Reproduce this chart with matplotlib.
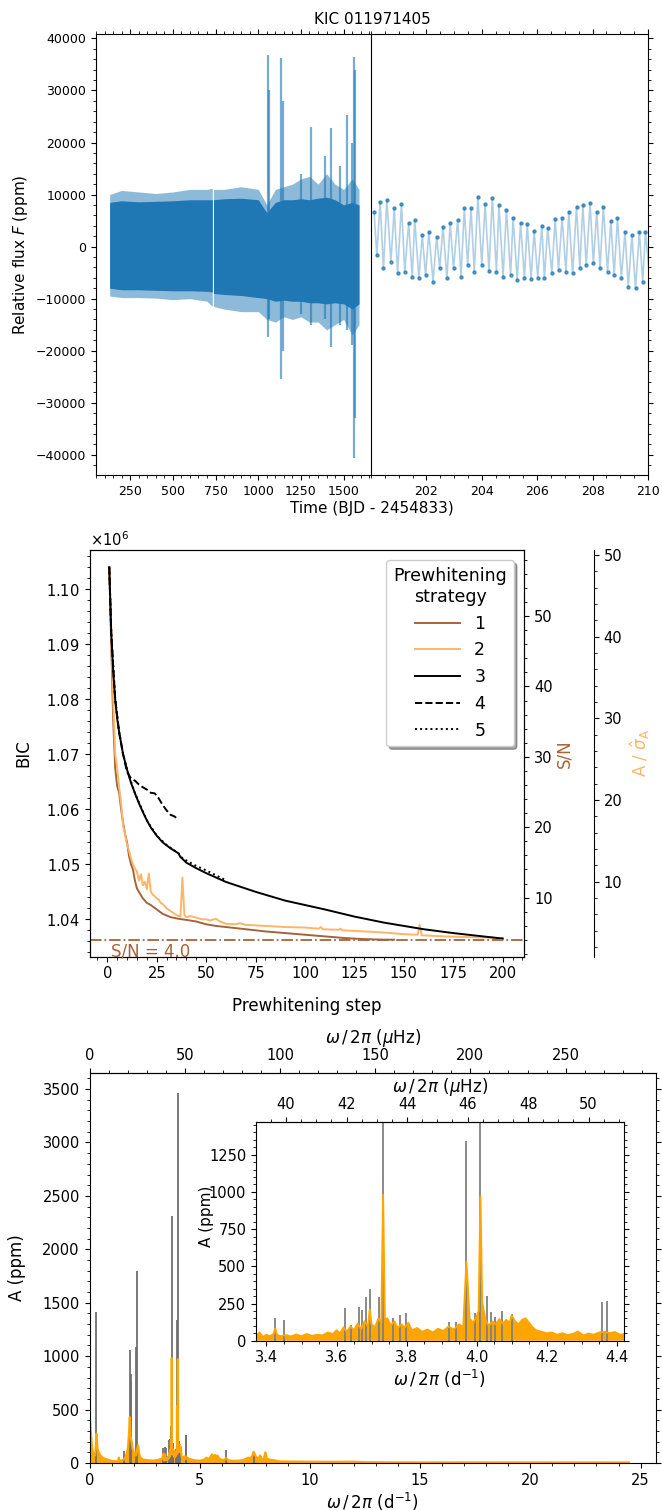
import numpy as np
import matplotlib.pyplot as plt
from matplotlib.ticker import MultipleLocator

# ---------------- light curve (panel 1) ----------------
lc_t = [130, 200, 300, 400, 500, 600, 700, 731, 738, 800, 900, 1000, 1050,
        1100, 1150, 1200, 1250, 1300, 1350, 1400, 1450, 1500, 1550, 1590]
core_hi = [8500, 8800, 8600, 8700, 8800, 9000, 9000, 9000, 9000, 9200, 9300, 9000, 6500,
           8500, 9000, 9000, 9200, 9000, 9300, 9500, 9000, 8000, 8500, 8000]
core_lo = [-8000, -8300, -8300, -8400, -8500, -8500, -8600, -8700, -9000, -9200, -9400, -9800, -10000,
           -10500, -10300, -10500, -10500, -10800, -10800, -11000, -10800, -11000, -12000, -11000]
outer_hi = [10000, 10800, 10500, 10200, 10500, 11000, 11000, 11200, 11000, 11000, 11500, 11000, 8000,
            11000, 11500, 12000, 13000, 13500, 12000, 14000, 12000, 11000, 13000, 11000]
outer_lo = [-9500, -9800, -9800, -9900, -10200, -10000, -10500, -11500, -11500, -12000, -12500, -12500, -14000,
            -14500, -13500, -14000, -13500, -14500, -14500, -16000, -15000, -14000, -17000, -15000]

spike_t = [1058, 1064, 1136, 1142, 1250, 1307, 1390, 1426, 1478, 1520, 1548, 1562, 1568]
spike_hi = [36800, 30000, 36300, 28000, 14000, 23000, 17500, 22700, 15500, 25300, 20000, 36500, 34000]
spike_lo = [-17300, -14000, -25500, -20000, -13000, -15000, -14000, -19200, -15000, -16000, -19000, -40600, -33000]

peak_t = [200.11, 200.33, 200.57, 200.84, 201.10, 201.36, 201.58, 201.85, 202.09, 202.37,
          202.60, 202.86, 203.13, 203.37, 203.61, 203.86, 204.12, 204.38, 204.62, 204.89,
          205.13, 205.40, 205.64, 205.89, 206.17, 206.38, 206.65, 206.90, 207.14, 207.42,
          207.65, 207.91, 208.15, 208.39, 208.66, 208.90, 209.17, 209.42, 209.69, 209.91]
peak_f = [6730, 8650, 8970, 7370, 8200, 4490, 5130, 2240, 2880, 1920,
          3850, 4490, 5130, 7370, 7370, 9620, 8200, 9420, 8010, 7050,
          5580, 4490, 4290, 3010, 4040, 3530, 5320, 5580, 6730, 7690,
          8010, 8330, 6730, 7690, 4940, 5450, 2880, 2240, 2880, 2880]
trough_t = [200.21, 200.45, 200.72, 200.96, 201.22, 201.49, 201.73, 201.97, 202.24, 202.48,
            202.74, 202.98, 203.25, 203.49, 203.73, 204.00, 204.26, 204.53, 204.77, 205.04,
            205.28, 205.54, 205.78, 206.02, 206.26, 206.53, 206.77, 207.04, 207.28, 207.54,
            207.77, 208.03, 208.27, 208.54, 208.78, 209.04, 209.29, 209.55, 209.81, 210.06]
trough_f = [-1600, -4170, -2880, -5130, -4810, -5770, -6090, -5450, -6730, -4170,
            -6090, -4170, -5770, -3530, -4810, -3530, -4680, -4810, -5770, -5450,
            -6410, -6090, -6220, -5960, -6090, -5130, -4490, -4810, -5130, -4170,
            -3530, -3210, -4170, -4810, -5450, -6090, -7690, -8010, -6730, -6090]

# ---------------- prewhitening (panel 2) ----------------
s1_x = [1, 2, 3, 4, 5, 6, 7, 8, 9, 10, 11, 12, 13, 14, 15, 16, 18, 20, 22, 25, 28, 32, 36,
        40, 45, 50, 55, 60, 70, 80, 90, 100, 110, 120, 130, 140, 145]
s1_y = [1.1040, 1.0900, 1.0760, 1.0675, 1.0642, 1.0630, 1.0600, 1.0575, 1.0555, 1.0540, 1.0515,
        1.0500, 1.0490, 1.0470, 1.0456, 1.0450, 1.0438, 1.0430, 1.0426, 1.0418, 1.0410, 1.0404,
        1.0401, 1.0399, 1.0396, 1.0391, 1.0388, 1.0386, 1.0382, 1.0378, 1.0375, 1.0372, 1.0369,
        1.0366, 1.0364, 1.0363, 1.0363]
s2_x = [1, 2, 3, 4, 5, 6, 7, 8, 9, 10, 11, 12, 13, 14, 15, 16, 17, 18, 19, 20, 21, 22, 23, 24,
        25, 26, 27, 28, 30, 32, 34, 36, 37, 38, 39, 40, 42, 45, 48, 50, 52, 55, 57, 60, 65, 67,
        70, 75, 80, 90, 100, 107, 108, 109, 117, 118, 119, 130, 140, 150, 157, 158, 159, 170,
        180, 190, 200]
s2_y = [1.1040, 1.0920, 1.0800, 1.0700, 1.0675, 1.0640, 1.0610, 1.0570, 1.0555, 1.0535, 1.0525,
        1.0510, 1.0500, 1.0492, 1.0487, 1.0470, 1.0482, 1.0462, 1.0468, 1.0455, 1.0483, 1.0450,
        1.0445, 1.0442, 1.0438, 1.0436, 1.0430, 1.0428, 1.0420, 1.0415, 1.0410, 1.0406, 1.0405,
        1.0476, 1.0408, 1.0404, 1.0406, 1.0403, 1.0400, 1.0400, 1.0398, 1.0401, 1.0396, 1.0392,
        1.0391, 1.0393, 1.0390, 1.0389, 1.0388, 1.0386, 1.0385, 1.0383, 1.0386, 1.0382, 1.0381,
        1.0383, 1.0380, 1.0378, 1.0376, 1.0373, 1.0372, 1.0390, 1.0371, 1.0369, 1.0368, 1.0367,
        1.0366]
s3_x = [1, 2, 3, 4, 5, 6, 8, 10, 12, 14, 16, 18, 20, 22, 25, 28, 32, 36, 37, 38, 40, 45, 50,
        60, 75, 90, 100, 110, 125, 140, 150, 160, 175, 185, 200]
s3_y = [1.1040, 1.0920, 1.0850, 1.0800, 1.0765, 1.0740, 1.0700, 1.0672, 1.0648, 1.0629, 1.0611,
        1.0595, 1.0580, 1.0567, 1.0552, 1.0540, 1.0529, 1.0520, 1.0513, 1.0510, 1.0503, 1.0493,
        1.0484, 1.0468, 1.0450, 1.0434, 1.0426, 1.0418, 1.0405, 1.0394, 1.0388, 1.0382, 1.0375,
        1.0371, 1.0365]
s4_x = [1, 2, 4, 6, 8, 10, 12, 14, 16, 18, 20, 22, 24, 26, 28, 30, 32, 34, 36]
s4_y = [1.1040, 1.0920, 1.0800, 1.0740, 1.0700, 1.0668, 1.0656, 1.0652, 1.0645, 1.0640, 1.0636,
        1.0630, 1.0629, 1.0620, 1.0608, 1.0598, 1.0590, 1.0587, 1.0581]
s5_x = [1, 2, 4, 6, 8, 10, 14, 20, 25, 30, 36, 37, 40, 45, 50, 55, 60]
s5_y = [1.1040, 1.0920, 1.0800, 1.0740, 1.0700, 1.0672, 1.0629, 1.0580, 1.0552, 1.0535, 1.0520,
        1.0514, 1.0507, 1.0497, 1.0489, 1.0480, 1.0471]
snr_limit = 4.0

# ---------------- amplitude spectrum (panel 3) ----------------
res_freq = [0.000, 0.020, 0.050, 0.080, 0.100, 0.150, 0.200, 0.250, 0.290, 0.310, 0.330, 0.360,
            0.400, 0.450, 0.500, 0.600, 0.700, 0.850, 1.000, 1.150, 1.300, 1.330, 1.360, 1.450,
            1.550, 1.600, 1.650, 1.700, 1.750, 1.800, 1.830, 1.860, 1.900, 1.950, 2.000, 2.050,
            2.100, 2.150, 2.200, 2.250, 2.300, 2.400, 2.500, 2.700, 2.900, 3.000, 3.100, 3.200,
            3.300, 3.350,
            3.370, 3.380, 3.390, 3.400, 3.410, 3.420, 3.425, 3.430, 3.440, 3.455, 3.470, 3.485,
            3.500, 3.515, 3.530, 3.545, 3.560, 3.575, 3.590, 3.600, 3.610, 3.620, 3.630, 3.640,
            3.650, 3.660, 3.670, 3.680, 3.690, 3.695, 3.700, 3.710, 3.720, 3.728, 3.733, 3.738,
            3.745, 3.755, 3.765, 3.775, 3.785, 3.795, 3.805, 3.815, 3.830, 3.845, 3.860, 3.875,
            3.890, 3.905, 3.920, 3.935, 3.950, 3.962, 3.971, 3.980, 3.990, 4.000, 4.006, 4.011,
            4.016, 4.025, 4.035, 4.045, 4.055, 4.065, 4.075, 4.085, 4.095, 4.100, 4.110, 4.120,
            4.130, 4.140, 4.150, 4.160, 4.170, 4.185, 4.200, 4.215, 4.230, 4.245, 4.260, 4.275,
            4.290, 4.305, 4.320, 4.335, 4.350, 4.365, 4.380, 4.395, 4.410, 4.420,
            4.450, 4.500, 4.600, 4.700, 4.800, 5.000, 5.200, 5.300, 5.400, 5.500, 5.560, 5.620,
            5.700, 5.750, 5.800, 5.900, 6.000, 6.100, 6.200, 6.300, 6.500, 6.800, 7.000, 7.100,
            7.200, 7.300, 7.400, 7.450, 7.500, 7.600, 7.700, 7.750, 7.800, 7.900, 7.980, 8.050,
            8.200, 8.400, 8.600, 9.000, 10.000, 11.000, 12.000, 12.500, 14.000, 16.000, 18.000,
            20.000, 22.000, 24.470]
res_amp = [415, 430, 305, 240, 180, 100, 85, 70, 150, 275, 240, 135,
           110, 85, 70, 50, 40, 30, 20, 18, 15, 50, 18, 25,
           30, 45, 60, 100, 150, 300, 430, 250, 210, 140, 100, 80,
           70, 120, 165, 90, 55, 35, 30, 25, 22, 25, 28, 35,
           40, 85,
           30, 55, 25, 40, 30, 45, 83, 40, 30, 38, 28, 42,
           30, 45, 32, 40, 35, 55, 45, 70, 50, 90, 60, 95,
           70, 115, 80, 130, 95, 210, 110, 90, 150, 120, 980, 140,
           150, 100, 130, 85, 110, 90, 120, 70, 85, 60, 75, 55,
           80, 65, 95, 75, 110, 90, 530, 150, 120, 160, 200, 970,
           260, 140, 100, 130, 110, 145, 115, 140, 120, 170, 130, 110,
           140, 150, 120, 90, 70, 60, 50, 55, 40, 50, 38, 45,
           62, 35, 48, 40, 55, 60, 50, 58, 40, 45,
           50, 40, 35, 28, 25, 22, 30, 50, 35, 60, 80, 55,
           75, 45, 70, 40, 30, 28, 45, 25, 20, 22, 30, 40,
           50, 45, 70, 105, 80, 40, 55, 70, 40, 30, 100, 40,
           30, 25, 15, 14, 12, 11, 12, 8, 6, 6, 5,
           6, 5, 5]

orig_freq = [0.02, 0.30, 1.55, 1.82, 1.86, 1.90, 2.12, 2.16, 3.35, 3.45, 3.424, 3.625, 3.642,
             3.663, 3.672, 3.683, 3.695, 3.720, 3.733, 3.762, 3.781, 3.798, 3.921, 3.942, 3.971,
             3.996, 4.011, 4.029, 4.040, 4.053, 4.073, 4.100, 4.358, 4.372, 6.21, 7.45]
orig_amp = [595, 1415, 112, 1060, 830, 765, 1090, 1800, 140, 140, 150, 218, 105,
            224, 206, 296, 345, 292, 2310, 150, 173, 188, 128, 128, 1340,
            184, 3460, 300, 195, 160, 202, 180, 260, 267, 118, 105]

D_TO_UHZ = 1e6 / 86400.0

brown = '#a5633c'
light_orange = '#ffb566'
blue = '#1f77b4'

fig = plt.figure(figsize=(6.62, 15.10), dpi=100)

# ======== panel 1 ========
axL = fig.add_axes([0.145, 0.6854, 0.4154, 0.2919])
axR = fig.add_axes([0.5604, 0.6854, 0.4184, 0.2919])

t = np.array(lc_t)
seg1 = t <= 732
seg2 = t >= 737
for m in (seg1, seg2):
    axL.fill_between(t[m], np.array(outer_lo)[m], np.array(outer_hi)[m],
                     color=blue, alpha=0.5, lw=0)
    axL.fill_between(t[m], np.array(core_lo)[m], np.array(core_hi)[m],
                     color=blue, alpha=1.0, lw=0)
axL.vlines(spike_t, spike_lo, spike_hi, color=blue, lw=1.6, alpha=0.6)
axL.set_xlim(50, 1660)
axL.set_ylim(-43900, 40800)
axL.xaxis.set_major_locator(MultipleLocator(250))
axL.xaxis.set_minor_locator(MultipleLocator(50))
axL.yaxis.set_major_locator(MultipleLocator(10000))
axL.yaxis.set_minor_locator(MultipleLocator(2000))
axL.tick_params(which='both', top=True, right=False, labelsize=9)
axL.spines['right'].set_visible(False)
axL.set_ylabel('Relative flux $F$ (ppm)', fontsize=11)

order = np.argsort(peak_t + trough_t)
zt = np.array(peak_t + trough_t)[order]
zf = np.array(peak_f + trough_f)[order]
axR.plot(zt, zf, color=blue, lw=1.2, alpha=0.35)
axR.plot(zt, zf, 'o', color=blue, ms=2.2, alpha=0.7)
axR.set_xlim(200, 210)
axR.set_ylim(-43900, 40800)
axR.set_xticks([202, 204, 206, 208, 210])
axR.xaxis.set_minor_locator(MultipleLocator(0.5))
axR.yaxis.set_major_locator(MultipleLocator(10000))
axR.yaxis.set_minor_locator(MultipleLocator(2000))
axR.tick_params(which='both', top=True, right=True, left=False, labelleft=False, labelsize=9)

fig.text(372 / 662, 1 - 20 / 1510, 'KIC 011971405', ha='center', va='center', fontsize=11)
fig.text(372 / 662, 1 - 508 / 1510, 'Time (BJD - 2454833)', ha='center', va='center', fontsize=11)

# ======== panel 2 ========
ax2 = fig.add_axes([0.1352, 0.3664, 0.657, 0.2694])
l1, = ax2.plot(s1_x, np.array(s1_y) * 1e6, color=brown, lw=1.4, label='1')
l2, = ax2.plot(s2_x, np.array(s2_y) * 1e6, color=light_orange, lw=1.4, label='2')
l3, = ax2.plot(s3_x, np.array(s3_y) * 1e6, color='black', lw=1.4, label='3')
l4, = ax2.plot(s4_x, np.array(s4_y) * 1e6, color='black', lw=1.4, ls='--', label='4')
l5, = ax2.plot(s5_x, np.array(s5_y) * 1e6, color='black', lw=1.4, ls=':', label='5')
ax2.set_xlim(-9, 211)
ax2.set_ylim(1.0332e6, 1.10715e6)
ax2.xaxis.set_major_locator(MultipleLocator(25))
ax2.xaxis.set_minor_locator(MultipleLocator(5))
ax2.yaxis.set_major_locator(MultipleLocator(0.01e6))
ax2.yaxis.set_minor_locator(MultipleLocator(0.002e6))
ax2.ticklabel_format(axis='y', style='sci', scilimits=(0, 0), useMathText=True, useOffset=False)
ax2.tick_params(which='both', labelsize=10.5)
ax2.yaxis.get_offset_text().set_fontsize(10.5)
ax2.set_ylabel('BIC', fontsize=12, labelpad=10)
ax2.set_xlabel('Prewhitening step', fontsize=12, labelpad=11)

ax_snr = ax2.twinx()
ax_snr.set_ylim(1.6, 59.4)
ax_snr.set_yticks([10, 20, 30, 40, 50])
ax_snr.yaxis.set_minor_locator(MultipleLocator(2))
ax_snr.tick_params(which='both', labelsize=10.5)
ax_snr.set_ylabel('S/N', color=brown, fontsize=12, labelpad=2)
ax_snr.axhline(snr_limit, color=brown, ls='-.', lw=1.3)
ax_snr.text(2, snr_limit - 0.4, 'S/N = %.1f' % snr_limit, color=brown, fontsize=12,
            va='top', ha='left')

ax_amp = ax2.twinx()
ax_amp.spines['right'].set_position(('axes', 1.16))
ax_amp.set_ylim(0.8, 50.6)
ax_amp.set_yticks([10, 20, 30, 40, 50])
ax_amp.yaxis.set_minor_locator(MultipleLocator(2))
ax_amp.tick_params(which='both', labelsize=10.5)
ax_amp.set_ylabel(r'A / $\hat{\sigma}_\mathrm{A}$', color=light_orange, fontsize=12, labelpad=4)
for sp in ('top', 'left', 'bottom'):
    ax_amp.spines[sp].set_visible(False)

leg = ax_snr.legend(handles=[l1, l2, l3, l4, l5], title='Prewhitening\nstrategy',
                    loc='upper right', fontsize=12.5, title_fontsize=12.5, shadow=True,
                    handlelength=2.6, borderaxespad=0.6, framealpha=1)
leg.get_title().set_multialignment('center')

# ======== panel 3 ========
ax3 = fig.add_axes([0.1352, 0.0311, 0.8557, 0.2583])
ax3.vlines(orig_freq, 0, orig_amp, color='#707070', lw=1.3)
ax3.fill_between(res_freq, 0, res_amp, color='orange', lw=0)
ax3.plot(res_freq, res_amp, color='orange', lw=1.6)
ax3.set_xlim(0, 25.7)
ax3.set_ylim(0, 3650)
ax3.xaxis.set_major_locator(MultipleLocator(5))
ax3.xaxis.set_minor_locator(MultipleLocator(1))
ax3.yaxis.set_major_locator(MultipleLocator(500))
ax3.yaxis.set_minor_locator(MultipleLocator(100))
ax3.tick_params(which='both', right=True, labelsize=10.5)
ax3.set_xlabel(r'$\omega\,/\,2\pi$ (d$^{-1}$)', fontsize=12, labelpad=2)
ax3.set_ylabel('A (ppm)', fontsize=12, labelpad=12)
top3 = ax3.secondary_xaxis('top', functions=(lambda f: f * D_TO_UHZ, lambda u: u / D_TO_UHZ))
top3.set_xticks([0, 50, 100, 150, 200, 250])
top3.xaxis.set_minor_locator(MultipleLocator(10))
top3.tick_params(which='both', labelsize=10.5)
top3.set_xlabel(r'$\omega\,/\,2\pi$ ($\mu$Hz)', fontsize=12)

axin = fig.add_axes([0.3867, 0.1121, 0.5553, 0.1449])
axin.vlines(orig_freq, 0, orig_amp, color='#808080', lw=1.3)
axin.fill_between(res_freq, 0, res_amp, color='orange', lw=0)
axin.plot(res_freq, res_amp, color='orange', lw=1.4)
axin.set_xlim(3.37, 4.42)
axin.set_ylim(0, 1470)
axin.set_xticks([3.4, 3.6, 3.8, 4.0, 4.2, 4.4])
axin.xaxis.set_minor_locator(MultipleLocator(0.05))
axin.set_yticks([0, 250, 500, 750, 1000, 1250])
axin.yaxis.set_minor_locator(MultipleLocator(50))
axin.tick_params(which='both', right=True, labelsize=10.5)
axin.set_xlabel(r'$\omega\,/\,2\pi$ (d$^{-1}$)', fontsize=12, labelpad=2)
axin.set_ylabel('A (ppm)', fontsize=11)
axin.yaxis.set_label_coords(-0.115, 0.57)
topin = axin.secondary_xaxis('top', functions=(lambda f: f * D_TO_UHZ, lambda u: u / D_TO_UHZ))
topin.set_xticks([40, 42, 44, 46, 48, 50])
topin.xaxis.set_minor_locator(MultipleLocator(0.5))
topin.tick_params(which='both', labelsize=10.5)
topin.set_xlabel(r'$\omega\,/\,2\pi$ ($\mu$Hz)', fontsize=12)

fig.savefig('out.png', dpi=100)
